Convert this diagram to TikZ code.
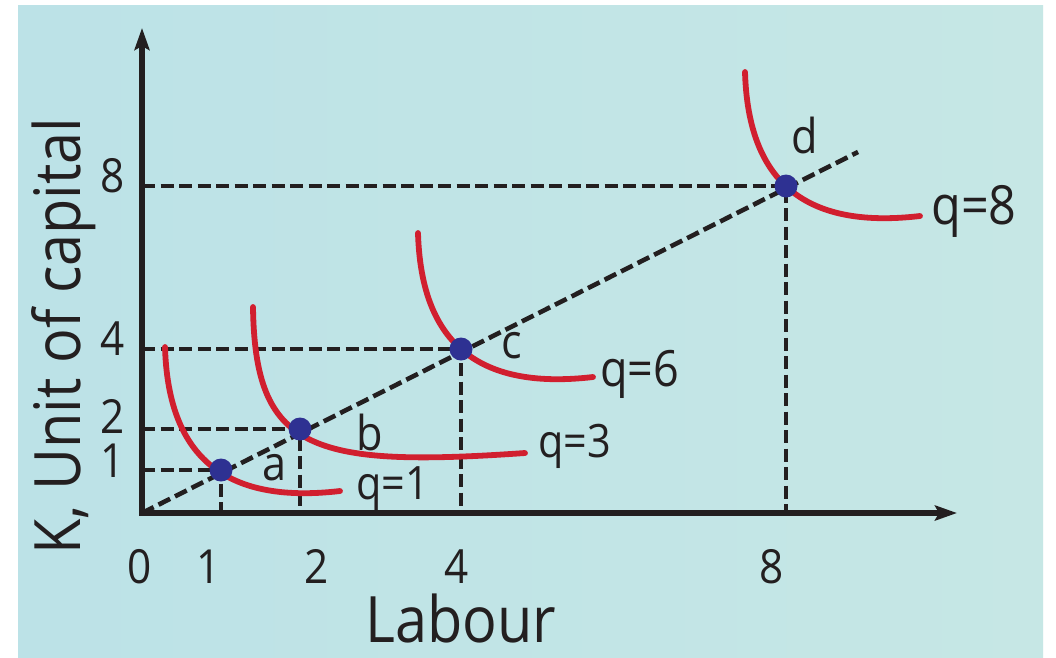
\documentclass[tikz,border=0pt]{standalone}
\usepackage{fontspec}
\setmainfont{Open Sans}[FakeStretch=0.9]
\usetikzlibrary{arrows.meta}
\definecolor{ink}{HTML}{231F20}
\definecolor{iso}{HTML}{D11F2F}
\definecolor{spot}{HTML}{2E3192}
\definecolor{bgleft}{HTML}{BCE2E7}
\definecolor{bgmid}{HTML}{D6EEEA}
\definecolor{bgright}{HTML}{C6E7E5}

\begin{document}
\begin{tikzpicture}[x=1pt,y=-1pt,>={Stealth[length=22pt,width=15pt,inset=4pt]},
 guide/.style={ink,line width=4.6pt,dash pattern=on 13pt off 5.5pt},
 isoq/.style={iso,line width=5.8pt,line cap=round},
 dot/.style={circle,fill=spot,inner sep=0pt,minimum size=23pt},
 txt/.style={inner sep=0pt,text=ink},
 tick/.style={txt,font=\fontsize{47}{50}\selectfont},
 pname/.style={txt,anchor=base,font=\fontsize{48}{52}\selectfont},
 qname/.style={txt,anchor=base west},
 title/.style={txt,font=\fontsize{64}{70}\selectfont}]
\useasboundingbox (0,0) rectangle (1056,657);
\fill[white] (0,0) rectangle (1056,657);
\shade[left color=bgleft,middle color=bgmid,right color=bgright] (18,5) rectangle (1043,657);
% axes and the ray through the origin
\coordinate (O) at (142,513);
\coordinate (ytop) at (142,28);
\coordinate (xend) at (957,513);
\coordinate (rayend) at (858,152);
\foreach \p/\x/\y in {a/221/470,b/300/429,c/461/349,d/786/186} {\coordinate (\p) at (\x,\y);}
\draw[guide] (O) -- (rayend);
\foreach \p in {a,b,c,d} {\draw[guide] (O |- \p) -- (\p) -- (\p |- O);}
\draw[ink,line width=5.5pt,<->] (ytop) -- (O) -- (xend);
% isoquants
\draw[isoq] (165,347) .. controls (168,452) and (220,505) .. (340,491);
\draw[isoq] (253,307) .. controls (255,450) and (310,468) .. (525,453);
\draw[isoq] (418,233) .. controls (421,338) and (473,391) .. (593,377);
\draw[isoq] (745,72) .. controls (748,177) and (800,230) .. (920,216);
\foreach \p in {a,b,c,d} {\node[dot] (\p dot) at (\p) {};}
% labels
\node[pname] (na) at (275,480) {a};
\node[pname] (nb) at (370,450) {b};
\node[pname] (nc) at (512,358) {c};
\node[pname] (nd) at (805,153) {d};
\node[qname,font=\fontsize{46}{50}\selectfont] (q1) at (356,499) {q=1};
\node[qname,font=\fontsize{46}{50}\selectfont] (q3) at (538,457) {q=3};
\node[qname,font=\fontsize{50}{54}\selectfont] (q6) at (600,386) {q=6};
\node[qname,font=\fontsize{54}{58}\selectfont] (q8) at (931,224) {q=8};
\foreach \v/\y in {8/192,4/355,2/433,1/477} {\node[tick,anchor=base east] (k\v) at (125,\y) {\v};}
\foreach \v/\x in {0/140,1/209,2/317,4/457,8/772} {\node[tick,anchor=base] (l\v) at (\x,583) {\v};}
\node[title,anchor=base] (xtitle) at (461,642) {Labour};
\node[title,anchor=base west,rotate=90] (ytitle) at (80,555) {K, Unit of capital};
\end{tikzpicture}
\end{document}
